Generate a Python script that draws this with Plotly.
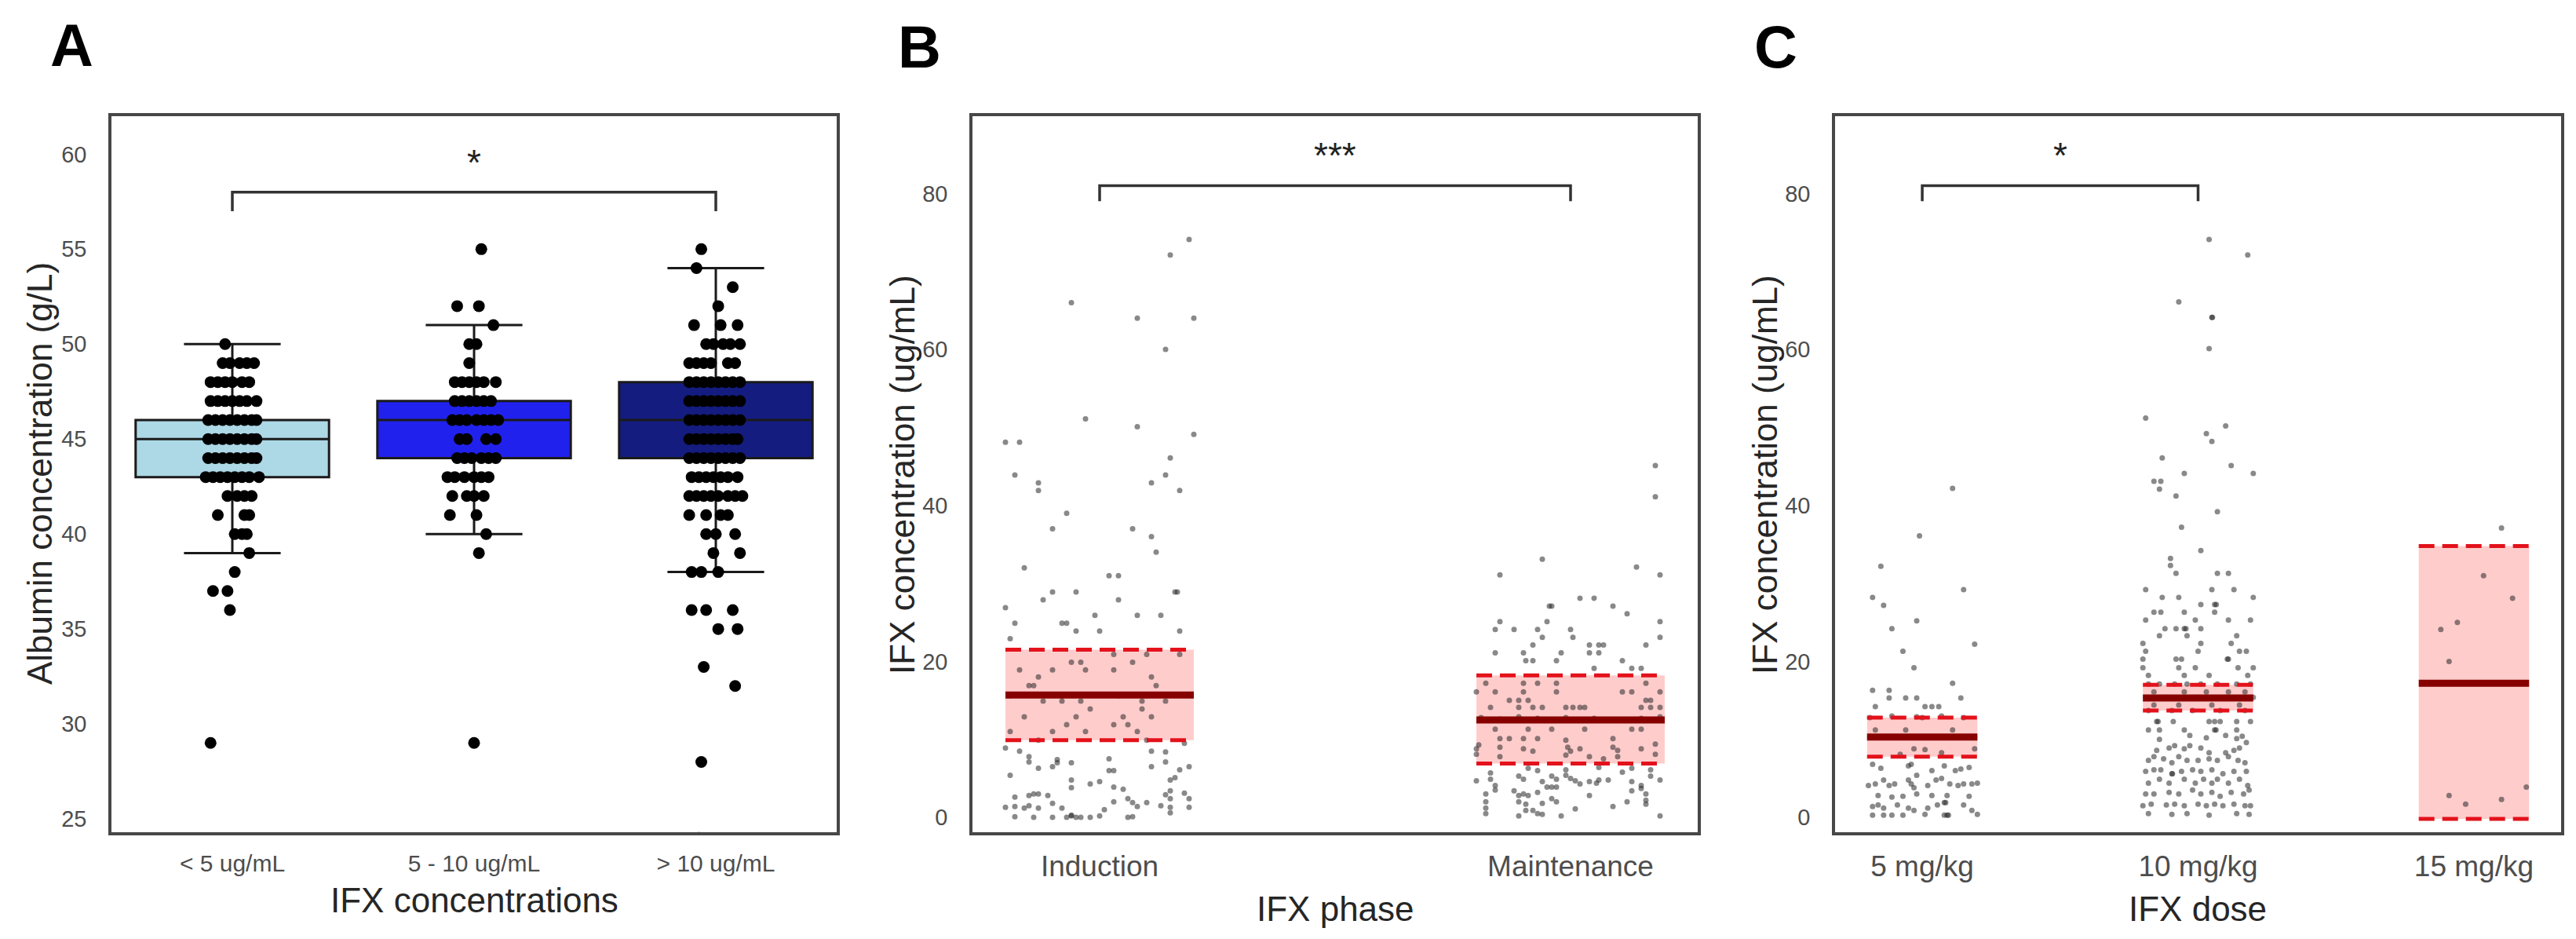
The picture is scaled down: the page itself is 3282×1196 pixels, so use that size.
import plotly.graph_objects as go

FONT = "Liberation Sans, Arial, sans-serif"
W, H = 3282, 1196

# ---------------- Panel A : albumin by IFX concentration group ----------------
alb_groups = ["< 5 ug/mL", "5 - 10 ug/mL", "> 10 ug/mL"]
alb_q1 = [43, 44, 44]
alb_med = [45, 46, 46]
alb_q3 = [46, 47, 48]
alb_lo = [39, 40, 38]
alb_hi = [50, 51, 54]

# (albumin g/L, horizontal jitter of each dot)
alb_lt5 = [
    (50, [-0.03]),
    (49, [-0.04, -0.01, 0.03, 0.06, 0.09]),
    (48, [-0.09, -0.06, -0.03, 0.0, 0.04, 0.07]),
    (47, [-0.09, -0.06, -0.03, 0.0, 0.03, 0.06, 0.10]),
    (46, [-0.10, -0.07, -0.04, -0.01, 0.02, 0.05, 0.08, 0.10]),
    (45, [-0.10, -0.07, -0.04, -0.01, 0.02, 0.05, 0.08, 0.10]),
    (44, [-0.10, -0.07, -0.04, -0.01, 0.02, 0.05, 0.08, 0.10]),
    (43, [-0.11, -0.08, -0.05, -0.02, 0.01, 0.04, 0.07, 0.11]),
    (42, [-0.02, 0.02, 0.05, 0.08]),
    (41, [-0.06, 0.05, 0.07]),
    (40, [0.01, 0.04, 0.06]),
    (39, [0.07]),
    (38, [0.01]),
    (37, [-0.08, -0.02]),
    (36, [-0.01]),
    (29, [-0.09]),
]
alb_5to10 = [
    (55, [0.03]),
    (52, [-0.07, 0.02]),
    (51, [0.08]),
    (50, [-0.02, 0.01]),
    (49, [-0.02]),
    (48, [-0.08, -0.05, -0.02, 0.01, 0.04, 0.09]),
    (47, [-0.08, -0.05, -0.02, 0.01, 0.04, 0.07]),
    (46, [-0.09, -0.06, -0.03, 0.01, 0.04, 0.07, 0.10]),
    (45, [-0.06, -0.03, 0.05, 0.09]),
    (44, [-0.07, -0.04, -0.01, 0.03, 0.06, 0.09]),
    (43, [-0.11, -0.08, -0.04, 0.0, 0.03, 0.06]),
    (42, [-0.09, -0.03, 0.0, 0.04]),
    (41, [-0.10, 0.01]),
    (40, [0.05]),
    (39, [0.02]),
    (29, [0.0]),
]
alb_gt10 = [
    (55, [-0.06]),
    (54, [-0.08]),
    (53, [0.07]),
    (52, [0.01]),
    (51, [-0.09, 0.02, 0.09]),
    (50, [-0.04, -0.01, 0.03, 0.06, 0.10]),
    (49, [-0.11, -0.08, -0.05, -0.02, 0.05, 0.08]),
    (48, [-0.11, -0.08, -0.05, -0.02, 0.01, 0.04, 0.07, 0.10]),
    (47, [-0.11, -0.08, -0.05, -0.02, 0.01, 0.04, 0.07, 0.10]),
    (46, [-0.11, -0.08, -0.05, -0.02, 0.01, 0.04, 0.07, 0.10]),
    (45, [-0.11, -0.08, -0.05, -0.02, 0.01, 0.04, 0.07, 0.09]),
    (44, [-0.11, -0.08, -0.05, -0.02, 0.01, 0.04, 0.07, 0.10]),
    (43, [-0.10, -0.07, -0.04, -0.01, 0.02, 0.05, 0.09]),
    (42, [-0.11, -0.08, -0.05, -0.02, 0.01, 0.05, 0.08, 0.11]),
    (41, [-0.11, -0.04, 0.02, 0.05]),
    (40, [-0.04, 0.0, 0.08]),
    (39, [-0.01, 0.10]),
    (38, [-0.10, -0.06, 0.01]),
    (36, [-0.10, -0.04, 0.07]),
    (35, [0.01, 0.09]),
    (33, [-0.05]),
    (32, [0.08]),
    (28, [-0.06]),
    (24, [-0.07]),
]

# ---------------- Panel B : IFX concentration by phase ----------------
phase_names = ["Induction", "Maintenance"]
phase_mean = [15.7, 12.5]
phase_lo = [9.9, 6.9]
phase_hi = [21.5, 18.2]

# (IFX ug/mL, horizontal jitter)
induction_pts = [
    (74.1, 0.19), (72.1, 0.15), (66.0, -0.06), (64.0, 0.08), (64.0, 0.20), (60.0, 0.14),
    (51.1, -0.03), (50.1, 0.08), (49.1, 0.20), (48.1, -0.20), (48.1, -0.17), (46.1, 0.15),
    (43.9, -0.18), (43.9, 0.14), (42.9, -0.13), (41.9, -0.13), (42.9, 0.11), (41.9, 0.17),
    (39.0, -0.07), (37.0, -0.10), (37.0, 0.07), (36.0, 0.11), (34.0, 0.12), (32.0, -0.16),
    (31.0, 0.02), (31.0, 0.04), (26.9, -0.20), (27.9, -0.12), (28.9, -0.10), (28.9, -0.05),
    (27.9, 0.04), (28.9, 0.16), (28.9, 0.165), (24.9, -0.18), (24.9, -0.08), (24.9, -0.07),
    (25.9, -0.01), (25.9, 0.08), (25.9, 0.13), (22.9, -0.19), (23.9, -0.05), (23.9, 0.0),
    (23.9, 0.17), (20.9, 0.03), (20.9, 0.10), (20.9, 0.17), (19.9, -0.06), (19.9, -0.04),
    (19.9, 0.07), (18.9, -0.17), (18.9, -0.10), (18.9, -0.03), (18.9, 0.03), (18.0, -0.13),
    (18.0, 0.11), (16.9, -0.15), (16.9, -0.14), (16.9, 0.12), (15.6, -0.19), (15.6, -0.08),
    (15.6, 0.04), (15.6, 0.10), (14.9, -0.12), (14.9, -0.08), (14.9, -0.04), (14.9, 0.09),
    (14.9, 0.14), (13.9, -0.02), (13.9, 0.09), (12.9, -0.16), (12.9, -0.05), (12.9, 0.05),
    (12.9, 0.11), (11.9, -0.07), (11.9, 0.03), (11.9, 0.06), (11.0, -0.19), (11.0, -0.10),
    (11.0, -0.03), (11.0, 0.08), (9.9, -0.13), (9.9, 0.10), (9.5, 0.18), (8.9, -0.20),
    (8.5, -0.17), (7.8, -0.15), (7.1, -0.15), (6.3, -0.13), (6.5, -0.10), (7.0, -0.09),
    (7.4, -0.09), (7.0, -0.06), (7.5, 0.02), (6.0, 0.02), (6.0, 0.03), (8.5, 0.11),
    (8.4, 0.14), (7.1, 0.14), (6.5, 0.11), (4.8, 0.15), (5.1, 0.16), (6.1, 0.17),
    (6.5, 0.19), (5.4, -0.19), (4.8, -0.06), (3.8, -0.06), (4.3, -0.02), (4.6, 0.0),
    (3.9, 0.03), (3.6, 0.05), (2.6, -0.18), (2.8, -0.15), (3.0, -0.14), (3.0, -0.13),
    (2.8, -0.11), (1.3, -0.20), (1.4, -0.18), (1.2, -0.16), (1.5, -0.15), (1.2, -0.13),
    (1.8, -0.10), (1.2, -0.08), (1.0, 0.01), (2.0, 0.03), (2.4, 0.06), (1.9, 0.07),
    (1.4, 0.08), (1.9, 0.10), (2.9, 0.14), (3.4, 0.15), (2.4, 0.15), (1.3, 0.15),
    (0.6, 0.15), (3.1, 0.18), (2.4, 0.19), (1.3, 0.19), (1.5, 0.13), (0.1, -0.18),
    (0.0, -0.14), (0.0, -0.10), (0.0, -0.07), (0.2, -0.06), (0.3, -0.06), (0.0, -0.05),
    (0.0, -0.04), (0.0, -0.02), (0.2, 0.0), (0.0, 0.06), (0.1, 0.07),
]
maintenance_pts = [
    (45.1, 0.18), (41.1, 0.18), (33.1, -0.06), (31.1, -0.15), (32.1, 0.14), (31.1, 0.19),
    (28.1, 0.02), (28.1, 0.05), (27.1, -0.045), (27.1, -0.04), (27.1, 0.09), (26.1, 0.12),
    (25.1, -0.15), (24.1, -0.16), (24.1, -0.12), (24.1, -0.07), (25.1, -0.05), (24.1, 0.0),
    (25.1, 0.19), (23.1, -0.06), (23.1, 0.005), (23.1, 0.19), (22.1, -0.08), (22.1, 0.04),
    (22.1, 0.06), (22.1, 0.07), (22.1, 0.16), (21.1, -0.16), (21.1, -0.10), (21.1, -0.02),
    (21.1, 0.04), (21.1, 0.06), (20.1, -0.095), (20.1, -0.08), (20.1, -0.03), (20.1, 0.11),
    (19.1, 0.05), (19.1, 0.13), (19.1, 0.15), (17.2, -0.18), (17.2, -0.10), (17.2, -0.07),
    (17.2, -0.03), (17.2, 0.16), (16.1, -0.20), (16.1, -0.16), (16.1, -0.10), (16.1, -0.03),
    (16.1, 0.11), (16.1, 0.13), (16.1, 0.19), (15.0, -0.13), (15.0, -0.11), (15.0, -0.09),
    (15.0, 0.16), (15.0, 0.17), (14.1, -0.17), (14.1, -0.11), (14.1, -0.08), (14.1, -0.06),
    (14.1, -0.01), (14.1, 0.005), (14.1, 0.02), (14.1, 0.03), (14.1, 0.15), (14.1, 0.17),
    (14.1, 0.19), (12.8, -0.19), (12.6, -0.15), (12.9, -0.11), (12.7, -0.07), (12.8, -0.01),
    (12.7, 0.05), (12.5, 0.10), (12.7, 0.15), (12.9, 0.19), (11.3, -0.16), (11.3, -0.09),
    (11.3, -0.04), (11.3, 0.03), (11.3, 0.13), (11.3, 0.15), (10.1, -0.15), (10.1, -0.13),
    (10.1, -0.10), (10.1, -0.07), (9.9, -0.01), (10.1, 0.09), (9.4, 0.18), (9.3, -0.195),
    (8.8, -0.20), (9.0, -0.15), (8.8, -0.10), (8.5, -0.08), (9.0, -0.006), (8.5, 0.0),
    (8.8, 0.02), (9.0, 0.09), (8.6, 0.10), (8.8, 0.15), (8.1, 0.18), (8.1, -0.20),
    (7.8, -0.15), (8.0, -0.01), (7.8, 0.04), (7.5, 0.07), (7.8, 0.10), (5.7, -0.17),
    (6.3, -0.09), (6.0, -0.07), (6.1, -0.01), (6.4, 0.06), (5.8, 0.11), (6.3, 0.13),
    (6.1, 0.17), (4.7, -0.20), (4.9, -0.17), (4.1, -0.16), (5.3, -0.11), (4.9, -0.10),
    (4.6, -0.06), (5.3, -0.04), (4.9, -0.03), (5.4, -0.01), (5.0, 0.0), (4.7, 0.01),
    (4.3, 0.02), (4.6, 0.04), (4.4, 0.055), (4.8, 0.06), (4.8, 0.08), (4.6, 0.13),
    (4.1, 0.15), (5.3, 0.17), (4.8, 0.19), (3.0, -0.18), (2.0, -0.18), (1.2, -0.18),
    (3.5, -0.16), (3.4, -0.12), (2.8, -0.11), (3.0, -0.10), (2.8, -0.09), (3.2, -0.07),
    (3.9, -0.05), (3.9, -0.04), (3.9, -0.03), (2.4, -0.04), (2.0, -0.03), (2.8, 0.04),
    (2.0, 0.12), (3.4, 0.13), (3.7, 0.15), (3.0, 0.16), (2.2, 0.16), (1.7, 0.16),
    (2.0, -0.11), (1.7, -0.095), (1.8, -0.06), (0.5, -0.18), (0.2, -0.11), (0.9, -0.095),
    (0.9, -0.08), (0.5, -0.07), (0.4, -0.06), (0.2, -0.02), (1.1, 0.01), (1.4, 0.09),
    (0.2, 0.19),
]

# ---------------- Panel C : IFX concentration by dose ----------------
dose_names = ["5 mg/kg", "10 mg/kg", "15 mg/kg"]
dose_mean = [10.3, 15.3, 17.2]
dose_lo = [7.8, 13.7, -0.2]
dose_hi = [12.8, 17.0, 34.8]

dose5_pts = [
    (42.2, 0.11), (36.1, -0.01), (32.2, -0.15), (28.2, -0.18), (27.2, -0.14), (29.2, 0.15),
    (24.2, -0.11), (25.2, -0.02), (22.2, 0.19), (21.3, -0.07), (19.2, -0.03), (17.2, 0.11),
    (16.3, -0.18), (16.3, -0.12), (15.3, -0.12), (15.3, -0.06), (15.3, -0.02), (15.3, 0.14),
    (14.2, -0.17), (14.2, 0.01), (14.2, 0.035), (14.2, 0.06), (12.8, -0.19), (13.0, -0.11),
    (12.9, -0.02), (12.8, 0.0), (13.0, 0.07), (12.8, 0.15), (11.2, -0.17), (11.2, -0.06),
    (11.2, 0.11), (10.3, -0.19), (10.3, -0.12), (10.3, -0.05), (10.3, 0.02), (10.3, 0.12),
    (10.3, 0.19), (8.8, -0.03), (8.7, 0.01), (8.1, -0.08), (8.3, 0.07), (8.8, 0.19),
    (6.8, -0.18), (6.3, -0.15), (6.6, -0.05), (6.8, -0.04), (5.4, -0.02), (6.0, 0.035),
    (6.6, 0.08), (6.0, 0.12), (6.2, 0.14), (6.4, 0.17), (4.1, -0.195), (4.3, -0.17),
    (4.8, -0.14), (4.1, -0.12), (4.3, -0.10), (4.8, -0.05), (4.3, -0.04), (3.8, -0.03),
    (4.1, 0.02), (4.8, 0.05), (5.0, 0.07), (4.3, 0.10), (4.1, 0.13), (4.3, 0.15),
    (4.3, 0.18), (4.4, 0.20), (2.8, -0.16), (2.6, -0.11), (2.7, -0.07), (3.0, -0.02),
    (2.8, 0.035), (2.8, 0.09), (2.7, 0.17), (1.4, -0.18), (1.6, -0.16), (1.2, -0.14),
    (1.6, -0.09), (1.2, -0.05), (0.9, -0.03), (1.2, 0.02), (1.6, 0.055), (1.9, 0.08),
    (1.9, 0.085), (1.6, 0.15), (0.9, 0.18), (0.3, -0.18), (0.3, -0.14), (0.3, -0.11),
    (0.3, -0.07), (0.4, 0.01), (0.3, 0.08), (0.3, 0.09), (0.3, 0.095), (0.4, 0.20),
]
dose10_pts = [
    (74.1, 0.04), (72.1, 0.18), (66.1, -0.07), (64.1, 0.05), (64.1, 0.052), (60.1, 0.04),
    (51.2, -0.19), (50.2, 0.10), (49.2, 0.03), (48.2, 0.05), (46.1, -0.13), (45.1, 0.12),
    (44.1, -0.05), (44.1, 0.20), (43.1, -0.16), (43.1, -0.135), (42.1, -0.14), (41.2, -0.08),
    (39.2, 0.07), (37.2, -0.06), (34.2, 0.01), (33.2, -0.10), (32.3, -0.10), (31.3, -0.08),
    (31.3, 0.07), (31.3, 0.11), (29.2, -0.19), (29.2, 0.05), (29.2, 0.13), (28.2, -0.13),
    (28.2, -0.07), (27.3, 0.01), (27.3, 0.06), (27.3, 0.066), (28.2, 0.20), (26.3, -0.16),
    (26.3, -0.135), (26.3, -0.05), (26.3, 0.06), (25.3, -0.19), (25.3, -0.01), (25.3, 0.11),
    (25.3, 0.19), (24.2, -0.12), (24.2, -0.08), (24.2, -0.05), (24.2, -0.044), (24.2, 0.01),
    (23.3, -0.14), (23.3, -0.04), (23.3, 0.14), (22.3, -0.20), (22.3, 0.01), (22.3, 0.12),
    (21.3, -0.19), (21.3, 0.0), (21.3, 0.15), (21.3, 0.175), (20.3, -0.20), (20.3, -0.08),
    (20.3, -0.06), (20.3, 0.106), (20.3, 0.11), (19.2, -0.20), (19.2, -0.07), (19.2, -0.01),
    (19.2, 0.145), (19.2, 0.20), (18.2, -0.18), (18.2, -0.05), (18.2, 0.04), (18.2, 0.18),
    (17.1, -0.18), (17.1, -0.14), (17.1, -0.085), (17.1, -0.04), (17.1, 0.01), (17.1, 0.07),
    (17.1, 0.14), (17.1, 0.19), (16.1, -0.16), (16.1, -0.05), (16.1, 0.03), (16.1, 0.11),
    (16.1, 0.17), (15.4, -0.19), (15.4, -0.115), (15.4, 0.0), (15.4, 0.10), (15.4, 0.20),
    (14.4, -0.16), (14.4, -0.07), (14.4, 0.05), (14.4, 0.15), (13.7, -0.18), (13.7, -0.095),
    (13.7, -0.02), (13.7, 0.08), (13.7, 0.17), (12.3, -0.15), (12.3, -0.145), (12.3, -0.09),
    (12.3, 0.04), (12.3, 0.06), (12.3, 0.08), (12.3, 0.14), (12.3, 0.19), (11.2, -0.18),
    (11.2, -0.14), (11.2, -0.05), (11.2, 0.06), (11.2, 0.065), (11.2, 0.14), (10.0, -0.14),
    (10.5, -0.03), (10.2, 0.03), (10.5, 0.10), (10.1, 0.14), (10.4, 0.16), (9.6, 0.175),
    (8.6, -0.15), (8.9, -0.105), (9.2, -0.085), (8.8, -0.05), (9.2, -0.03), (8.9, 0.01),
    (8.3, 0.04), (8.3, 0.10), (8.6, 0.13), (8.9, 0.15), (7.3, -0.18), (7.8, -0.16),
    (7.5, -0.125), (7.0, -0.095), (7.8, -0.07), (7.3, -0.04), (7.3, 0.0), (7.5, 0.04),
    (7.3, 0.07), (7.8, 0.11), (7.3, 0.145), (7.0, 0.17), (5.9, -0.19), (6.1, -0.16),
    (6.1, -0.135), (5.6, -0.095), (5.6, -0.093), (5.9, -0.06), (6.1, -0.02), (5.9, 0.01),
    (6.1, 0.05), (5.6, 0.09), (5.9, 0.13), (5.9, 0.175), (4.4, -0.18), (4.9, -0.14),
    (4.4, -0.105), (4.9, -0.05), (4.4, -0.01), (4.9, 0.02), (4.4, 0.05), (4.9, 0.07),
    (4.4, 0.11), (4.9, 0.15), (4.1, 0.18), (3.0, -0.19), (3.0, -0.16), (3.2, -0.105),
    (3.0, -0.07), (3.5, -0.02), (3.0, 0.01), (3.2, 0.05), (2.7, 0.08), (3.2, 0.12),
    (3.0, 0.165), (3.5, 0.185), (1.5, -0.20), (1.7, -0.17), (1.6, -0.115), (1.7, -0.085),
    (1.5, -0.05), (1.7, 0.0), (1.5, 0.03), (1.7, 0.06), (1.5, 0.09), (1.7, 0.13),
    (1.5, 0.17), (1.5, 0.19), (0.5, -0.18), (0.4, -0.095), (0.5, -0.04), (0.3, 0.04),
    (0.5, 0.14), (0.4, 0.185),
]
dose15_pts = [
    (37.1, 0.10), (31.0, 0.035), (28.1, 0.14), (24.1, -0.12), (25.0, -0.06), (20.0, -0.09),
    (2.8, -0.09), (1.7, -0.03), (2.3, 0.10), (3.9, 0.19),
]

# significance brackets: (left group, right group, bracket height, leg end, label)
sig_a = (0, 2, 58, 57, "*")
sig_b = (0, 1, 81, 79, "***")
sig_c = (0, 1, 81, 79, "*")

# ---------------- figure ----------------
BOX_COLORS = ["#add8e6", "#2121ee", "#141c80"]
DOT = "rgba(40,40,40,0.55)"
BAND = "rgba(255,0,0,0.2)"
DASH_RED = "#e3121b"
MEAN_RED = "#870000"
HALF = 0.2

fig = go.Figure()

for i in range(len(alb_groups)):
    fig.add_trace(go.Box(
        x=[i], q1=[alb_q1[i]], median=[alb_med[i]], q3=[alb_q3[i]],
        lowerfence=[alb_lo[i]], upperfence=[alb_hi[i]],
        width=0.8, whiskerwidth=0.5, fillcolor=BOX_COLORS[i],
        line=dict(color="#1a1a1a", width=3), boxpoints=False,
        xaxis="x", yaxis="y", showlegend=False, hoverinfo="skip"))

for i, rows in enumerate([alb_lt5, alb_5to10, alb_gt10]):
    xs, ys = [], []
    for v, offs in rows:
        for o in offs:
            xs.append(i + o)
            ys.append(v)
    fig.add_trace(go.Scatter(x=xs, y=ys, mode="markers", xaxis="x", yaxis="y",
                             marker=dict(size=15, color="black"),
                             showlegend=False, hoverinfo="skip"))


def add_band_panel(xa, ya, groups, means, los, his):
    # pink interval band, jittered points, dashed limits and mean line
    for i, pts in enumerate(groups):
        fig.add_trace(go.Scatter(
            x=[i - HALF, i + HALF, i + HALF, i - HALF, i - HALF],
            y=[los[i], los[i], his[i], his[i], los[i]],
            fill="toself", fillcolor=BAND, mode="lines", line=dict(width=0),
            xaxis=xa, yaxis=ya, showlegend=False, hoverinfo="skip"))
    for i, pts in enumerate(groups):
        fig.add_trace(go.Scatter(
            x=[i + o for v, o in pts], y=[v for v, o in pts], mode="markers",
            marker=dict(size=7, color=DOT), xaxis=xa, yaxis=ya,
            showlegend=False, hoverinfo="skip"))
    for i in range(len(groups)):
        fig.add_trace(go.Scatter(
            x=[i - HALF, i + HALF, None, i - HALF, i + HALF],
            y=[los[i], los[i], None, his[i], his[i]], mode="lines",
            line=dict(color=DASH_RED, width=5, dash="20px,10px"),
            xaxis=xa, yaxis=ya, showlegend=False, hoverinfo="skip"))
        fig.add_trace(go.Scatter(
            x=[i - HALF, i + HALF], y=[means[i], means[i]], mode="lines",
            line=dict(color=MEAN_RED, width=9),
            xaxis=xa, yaxis=ya, showlegend=False, hoverinfo="skip"))


add_band_panel("x2", "y2", [induction_pts, maintenance_pts], phase_mean, phase_lo, phase_hi)
add_band_panel("x3", "y3", [dose5_pts, dose10_pts, dose15_pts], dose_mean, dose_lo, dose_hi)

annotations = []
for (a, b, top, leg, label), xa, ya in [(sig_a, "x", "y"), (sig_b, "x2", "y2"), (sig_c, "x3", "y3")]:
    fig.add_trace(go.Scatter(x=[a, a, b, b], y=[leg, top, top, leg], mode="lines",
                             line=dict(color="#333333", width=3.5),
                             xaxis=xa, yaxis=ya, showlegend=False, hoverinfo="skip"))
    annotations.append(dict(x=(a + b) / 2, y=top, xref=xa, yref=ya, text=label,
                            showarrow=False, yshift=38, yanchor="middle",
                            font=dict(family=FONT, size=46, color="#222222")))


def px_x(p):
    return p / W


def px_y(p):
    return 1 - p / H


# panel letters and axis titles
for txt, x, y in [("A", 62, 57), ("B", 1142, 60), ("C", 2233, 59)]:
    annotations.append(dict(x=px_x(x), y=px_y(y), xref="paper", yref="paper",
                            text="<b>%s</b>" % txt, showarrow=False,
                            xanchor="left", yanchor="middle",
                            font=dict(family=FONT, size=76, color="black")))

TITLE_FONT = dict(family=FONT, size=44, color="#262626")
for txt, x, y, ang in [
    ("Albumin concentration (g/L)", 50, 603, -90),
    ("IFX concentrations", 604, 1146, 0),
    ("IFX concentration (ug/mL)", 1149, 605, -90),
    ("IFX phase", 1701, 1157, 0),
    ("IFX concentration (ug/mL)", 2248, 605, -90),
    ("IFX dose", 2800, 1157, 0),
]:
    annotations.append(dict(x=px_x(x), y=px_y(y), xref="paper", yref="paper",
                            text=txt, showarrow=False, textangle=ang,
                            xanchor="center", yanchor="middle", font=TITLE_FONT))

frame = dict(showline=True, mirror=True, linecolor="#474747", linewidth=3.5,
             showgrid=False, zeroline=False, ticks="", ticklabelstandoff=22,
             tickfont=dict(family=FONT, size=29, color="#4d4d4d"))
ydom = [px_y(1060), px_y(148)]

fig.update_layout(
    width=W, height=H, margin=dict(l=0, r=0, t=0, b=0),
    paper_bgcolor="white", plot_bgcolor="white", showlegend=False,
    xaxis=dict(frame, domain=[px_x(142), px_x(1066)], range=[-0.5, 2.5],
               tickvals=[0, 1, 2], ticktext=alb_groups, ticklabelstandoff=10,
               tickfont=dict(family=FONT, size=30, color="#4d4d4d"), anchor="y"),
    yaxis=dict(frame, domain=ydom, range=[24.3, 62.0], dtick=5, tick0=0, anchor="x"),
    xaxis2=dict(frame, domain=[px_x(1239), px_x(2163)], range=[-0.27, 1.27],
                tickvals=[0, 1], ticktext=phase_names, ticklabelstandoff=8,
                tickfont=dict(family=FONT, size=37, color="#4d4d4d"), anchor="y2"),
    yaxis2=dict(frame, domain=ydom, range=[-1.9, 89.9], dtick=20, tick0=0, anchor="x2"),
    xaxis3=dict(frame, domain=[px_x(2338), px_x(3263)], range=[-0.316, 2.316],
                tickvals=[0, 1, 2], ticktext=dose_names, ticklabelstandoff=8,
                tickfont=dict(family=FONT, size=37, color="#4d4d4d"), anchor="y3"),
    yaxis3=dict(frame, domain=ydom, range=[-1.9, 89.9], dtick=20, tick0=0, anchor="x3"),
    annotations=annotations,
)

fig.write_html("out.html", config={"displayModeBar": False},
               post_script="document.body.style.margin='0';")
